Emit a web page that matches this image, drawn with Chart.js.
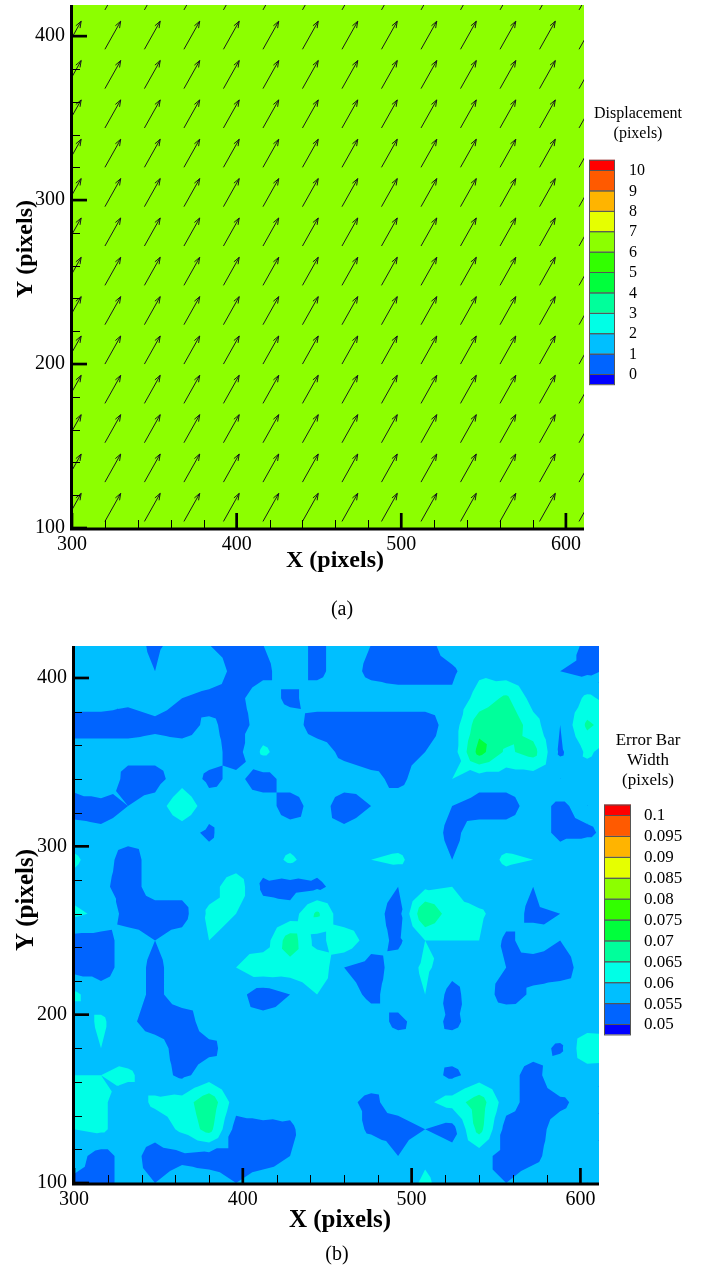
<!DOCTYPE html>
<html>
<head>
<meta charset="utf-8">
<script src="https://cdn.jsdelivr.net/npm/chart.js@4.4.1/dist/chart.umd.min.js"></script>
<style>
  body { margin: 0; background: #fff; }
  #wrap { position: relative; width: 702px; height: 1276px; }
  #chartA { position: absolute; left: 0; top: 0; }
  #chartB { position: absolute; left: 0; top: 625px; }
</style>
</head>
<body>
<div id="wrap">
  <canvas id="chartA" width="702" height="625"></canvas>
  <canvas id="chartB" width="702" height="651"></canvas>
</div>
<script>
// axis ticks (both panels)
var xTicks = [300, 400, 500, 600];
var yTicks = [100, 200, 300, 400];

// shared colour map (below first level ... above last level)
var bandColors = ['#0000ff', '#0064ff', '#00bfff', '#00ffe6', '#00ff9b', '#00ff3c',
                  '#32ff00', '#8cff00', '#e6ff00', '#ffb400', '#ff5a00', '#ff0000'];

// panel (a): uniform displacement vectors on a 24 px grid
var arrowX = [296, 320, 344, 368, 392, 416, 440, 464, 488, 512, 536, 560, 584, 608];
var arrowY = [104, 128, 152, 176, 200, 224, 248, 272, 296, 320, 344, 368, 392, 416];
var dispU = 3.3;
var dispV = 5.9;
var dispLevels = [0, 1, 2, 3, 4, 5, 6, 7, 8, 9, 10];

// panel (b): error bar width, 1e-3 pixels, rows from y=420 down to y=100
var fieldX = [300, 316, 332, 348, 364, 380, 396, 412, 428, 444, 460, 476, 492, 508, 524, 540, 556, 572, 588, 604, 620];
var fieldY = [420, 404, 388, 372, 356, 340, 324, 308, 292, 276, 260, 244, 228, 212, 196, 180, 164, 148, 132, 116, 100];
var errorWidth = [
  [57,56,57,54,57,55,53,55,57,54,57,55,53,53,58,60,58,56,58,54,54],
  [57,56,57,55,60,59,53,54,57,54,57,54,53,53,54,59,57,57,55,54,56],
  [57,57,56,57,55,53,54,57,54,57,57,57,57,57,56,62,66,58,56,61,58],
  [53,53,53,54,53,56,53,57,57,53,53,53,53,53,57,68,70,62,55,66,62],
  [57,57,57,57,57,57,53,61,57,57,54,53,54,55,57,72,64,67,54,61,57],
  [57,60,53,53,58,54,56,53,57,57,57,56,54,57,60,57,57,57,60,57,57],
  [53,53,55,57,64,57,56,57,53,57,53,55,57,57,55,53,53,57,54,57,57],
  [57,56,57,55,57,54,59,57,57,55,56,57,57,57,54,57,57,57,54,54,57],
  [61,57,53,57,60,57,57,57,61,57,59,60,61,57,55,57,61,60,57,60,57],
  [58,56,53,57,57,58,63,54,53,54,57,57,55,59,60,56,57,55,60,57,57],
  [61,59,53,53,53,61,60,57,57,66,56,57,53,70,62,61,57,54,55,57,54],
  [53,53,57,55,57,60,59,57,68,58,64,57,54,60,60,60,54,57,55,57,57],
  [53,53,57,54,57,57,60,64,63,64,55,53,57,61,57,57,55,53,53,57,57],
  [61,57,57,54,57,55,57,52,55,60,57,54,57,60,53,59,52,56,57,55,56],
  [57,61,56,53,53,57,55,57,57,60,59,57,54,57,54,57,60,57,59,57,57],
  [57,60,57,57,53,54,57,57,56,59,58,57,57,55,57,57,57,57,54,64,63],
  [60,60,61,57,54,57,55,60,60,57,57,57,55,57,54,57,57,53,59,57,57],
  [62,61,57,61,62,69,57,59,57,60,56,54,57,59,62,68,57,53,54,57,57],
  [60,61,57,57,61,67,53,53,54,59,58,54,53,55,53,67,53,53,57,57,57],
  [57,53,57,53,54,53,53,53,55,57,57,59,55,59,57,57,53,54,57,58,57],
  [54,54,56,55,57,57,55,57,57,57,55,55,57,61,57,55,55,57,57,57,57]
];
var errLevels = [0.05, 0.055, 0.06, 0.065, 0.07, 0.075, 0.08, 0.085, 0.09, 0.095, 0.1];

var serif = "'Liberation Serif', 'Times New Roman', serif";

function bandColor(levels, v) {
  var k = 0;
  while (k < levels.length && v >= levels[k]) k++;
  return bandColors[k];
}

// keep the part of a triangle where the linear field is >= level
function clipAbove(poly, level) {
  var out = [];
  for (var i = 0; i < poly.length; i++) {
    var a = poly[i], b = poly[(i + 1) % poly.length];
    var ina = a.v >= level, inb = b.v >= level;
    if (ina) out.push(a);
    if (ina !== inb) {
      var t = (level - a.v) / (b.v - a.v);
      out.push({ x: a.x + t * (b.x - a.x), y: a.y + t * (b.y - a.y), v: level });
    }
  }
  return out;
}

var fieldPlugin = {
  id: 'fieldPlugin',
  beforeDatasetsDraw: function (chart) {
    var ctx = chart.ctx, ca = chart.chartArea, sx = chart.scales.x, sy = chart.scales.y;
    ctx.save();
    ctx.beginPath();
    ctx.rect(ca.left, ca.top, ca.right - ca.left, ca.bottom - ca.top);
    ctx.clip();
    if (chart.canvas.id === 'chartA') {
      // uniform field: colour from displacement magnitude
      ctx.fillStyle = bandColor(dispLevels, Math.sqrt(dispU * dispU + dispV * dispV));
      ctx.fillRect(ca.left, ca.top, ca.right - ca.left, ca.bottom - ca.top);
      ctx.restore();
      return;
    }
    function node(i, j) {
      return { x: sx.getPixelForValue(fieldX[i]), y: sy.getPixelForValue(fieldY[j]), v: errorWidth[j][i] / 1000 };
    }
    var tris = [];
    for (var j = 0; j < fieldY.length - 1; j++) {
      for (var i = 0; i < fieldX.length - 1; i++) {
        var a = node(i, j), b = node(i + 1, j), c = node(i + 1, j + 1), d = node(i, j + 1);
        var m = { x: (a.x + c.x) / 2, y: (a.y + c.y) / 2, v: (a.v + b.v + c.v + d.v) / 4 };
        tris.push([a, b, m], [b, c, m], [c, d, m], [d, a, m]);
      }
    }
    ctx.fillStyle = bandColors[0];
    ctx.fillRect(ca.left, ca.top, ca.right - ca.left, ca.bottom - ca.top);
    // flood each level as one path so shared edges leave no seams
    errLevels.forEach(function (lvl, k) {
      ctx.beginPath();
      var any = false;
      tris.forEach(function (tri) {
        var p = clipAbove(tri, lvl - 1e-9);
        if (p.length < 3) return;
        ctx.moveTo(p[0].x, p[0].y);
        for (var q = 1; q < p.length; q++) ctx.lineTo(p[q].x, p[q].y);
        ctx.closePath();
        any = true;
      });
      if (any) {
        ctx.fillStyle = bandColors[k + 1];
        ctx.fill('nonzero');
      }
    });
    ctx.restore();
  },
  afterDatasetsDraw: function (chart) {
    if (chart.canvas.id !== 'chartA') return;
    var ctx = chart.ctx, ca = chart.chartArea, sx = chart.scales.x, sy = chart.scales.y;
    var vecScale = 2.9;
    ctx.save();
    ctx.beginPath();
    ctx.rect(ca.left, ca.top, ca.right - ca.left, ca.bottom - ca.top);
    ctx.clip();
    ctx.strokeStyle = '#1a1a1a';
    ctx.lineWidth = 1;
    chart.data.datasets[0].data.forEach(function (p) {
      var x0 = sx.getPixelForValue(p.x), y0 = sy.getPixelForValue(p.y);
      var x1 = sx.getPixelForValue(p.x + p.u * vecScale), y1 = sy.getPixelForValue(p.y + p.v * vecScale);
      var ang = Math.atan2(y1 - y0, x1 - x0);
      ctx.beginPath();
      ctx.moveTo(x0, y0);
      ctx.lineTo(x1, y1);
      ctx.moveTo(x1 - 7 * Math.cos(ang - 0.35), y1 - 7 * Math.sin(ang - 0.35));
      ctx.lineTo(x1, y1);
      ctx.lineTo(x1 - 7 * Math.cos(ang + 0.35), y1 - 7 * Math.sin(ang + 0.35));
      ctx.stroke();
    });
    ctx.restore();
  }
};

// axes with inward ticks, axis titles, colour bar and caption
function decorPlugin(opt) {
  return {
    id: 'decor',
    afterDraw: function (chart) {
      var ctx = chart.ctx, ca = chart.chartArea, sx = chart.scales.x, sy = chart.scales.y;
      ctx.save();
      ctx.strokeStyle = '#000';
      ctx.lineWidth = 1;
      for (var v = 320; v < sx.max; v += 20) {
        if (v % 100 === 0) continue;
        var px = Math.round(sx.getPixelForValue(v)) + 0.5;
        ctx.beginPath(); ctx.moveTo(px, ca.bottom); ctx.lineTo(px, ca.bottom - 8); ctx.stroke();
      }
      for (var w = 120; w < sy.max; w += 20) {
        if (w % 100 === 0) continue;
        var py = Math.round(sy.getPixelForValue(w)) + 0.5;
        ctx.beginPath(); ctx.moveTo(ca.left, py); ctx.lineTo(ca.left + 8, py); ctx.stroke();
      }
      ctx.lineWidth = 2.7;
      xTicks.forEach(function (t) {
        var px = sx.getPixelForValue(t);
        ctx.beginPath(); ctx.moveTo(px, ca.bottom); ctx.lineTo(px, ca.bottom - 15); ctx.stroke();
      });
      yTicks.forEach(function (t) {
        var py = sy.getPixelForValue(t);
        ctx.beginPath(); ctx.moveTo(ca.left, py); ctx.lineTo(ca.left + 15, py); ctx.stroke();
      });
      ctx.lineWidth = 3;
      ctx.beginPath();
      ctx.moveTo(ca.left - 0.5, ca.top);
      ctx.lineTo(ca.left - 0.5, ca.bottom + 1);
      ctx.lineTo(ca.right, ca.bottom + 1);
      ctx.stroke();

      // axis titles
      ctx.fillStyle = '#000';
      ctx.textAlign = 'center';
      ctx.textBaseline = 'middle';
      ctx.font = 'bold ' + opt.titleSize + 'px ' + serif;
      ctx.fillText('X (pixels)', opt.xTitle[0], opt.xTitle[1]);
      ctx.save();
      ctx.translate(opt.yTitle[0], opt.yTitle[1]);
      ctx.rotate(-Math.PI / 2);
      ctx.fillText('Y (pixels)', 0, 0);
      ctx.restore();

      // caption
      ctx.font = '20px ' + serif;
      ctx.fillText(opt.caption, opt.capPos[0], opt.capPos[1]);

      // colour bar
      ctx.font = opt.cbTitleSize + 'px ' + serif;
      opt.cbTitle.forEach(function (line, i) {
        ctx.fillText(line, opt.cbTitleX, opt.cbTitleY + i * opt.cbTitleGap);
      });
      var lv = opt.levels, n = lv.length - 1;
      var step = (opt.cbBottom - opt.cbTop) / n;
      var cap = step / 2;
      ctx.lineWidth = 1;
      ctx.strokeStyle = '#555';
      for (var k = 0; k <= lv.length; k++) {
        var yHi = k === lv.length ? opt.cbTop - cap : opt.cbBottom - k * step;
        var yLo = k === 0 ? opt.cbBottom + cap : opt.cbBottom - (k - 1) * step;
        ctx.fillStyle = bandColors[k];
        ctx.fillRect(opt.cbX, yHi, opt.cbW, yLo - yHi);
        ctx.strokeRect(opt.cbX + 0.5, yHi + 0.5, opt.cbW - 1, yLo - yHi);
      }
      ctx.fillStyle = '#000';
      ctx.textAlign = 'left';
      ctx.font = opt.cbLabelSize + 'px ' + serif;
      lv.forEach(function (l, k) {
        ctx.fillText(String(Number(l.toFixed(3))), opt.cbLabelX, opt.cbBottom - k * step + 1);
      });
      ctx.restore();
    }
  };
}

function axisOptions(yWidth, xHeight) {
  var tickFont = { family: serif, size: 20 };
  return {
    x: {
      type: 'linear', min: 300, max: 611,
      grid: { display: false, drawTicks: false },
      border: { display: false },
      ticks: { stepSize: 100, includeBounds: false, font: tickFont, color: '#000', padding: 5, maxRotation: 0 },
      afterFit: function (s) { s.height = xHeight; s.paddingLeft = 0; s.paddingRight = 0; }
    },
    y: {
      type: 'linear', min: 100, max: 419,
      grid: { display: false, drawTicks: false },
      border: { display: false },
      ticks: { stepSize: 100, includeBounds: false, font: tickFont, color: '#000', padding: 7 },
      afterFit: function (s) { s.width = yWidth; s.paddingTop = 0; s.paddingBottom = 0; }
    }
  };
}

var arrowPoints = [];
arrowY.forEach(function (y) {
  arrowX.forEach(function (x) {
    arrowPoints.push({ x: x, y: y, u: dispU, v: dispV });
  });
});

new Chart(document.getElementById('chartA'), {
  type: 'scatter',
  data: { datasets: [{ data: arrowPoints, pointRadius: 0 }] },
  options: {
    responsive: false,
    animation: false,
    events: [],
    layout: { padding: { left: 0, right: 118, top: 5, bottom: 0 } },
    plugins: { legend: { display: false }, tooltip: { enabled: false } },
    scales: axisOptions(72, 97)
  },
  plugins: [fieldPlugin, decorPlugin({
    titleSize: 24, xTitle: [335, 561], yTitle: [26, 249],
    caption: '(a)', capPos: [342, 610],
    cbTitle: ['Displacement', '(pixels)'], cbTitleSize: 16, cbTitleX: 638, cbTitleY: 114, cbTitleGap: 20,
    levels: dispLevels, cbX: 589, cbW: 26, cbTop: 170, cbBottom: 374,
    cbLabelX: 629, cbLabelSize: 16
  })]
});

new Chart(document.getElementById('chartB'), {
  type: 'scatter',
  data: { datasets: [{ data: [], pointRadius: 0 }] },
  options: {
    responsive: false,
    animation: false,
    events: [],
    layout: { padding: { left: 0, right: 103, top: 21, bottom: 0 } },
    plugins: { legend: { display: false }, tooltip: { enabled: false } },
    scales: axisOptions(74, 93)
  },
  plugins: [fieldPlugin, decorPlugin({
    titleSize: 25, xTitle: [340, 596], yTitle: [27, 275],
    caption: '(b)', capPos: [337, 630],
    cbTitle: ['Error Bar', 'Width', '(pixels)'], cbTitleSize: 17, cbTitleX: 648, cbTitleY: 116, cbTitleGap: 20,
    levels: errLevels, cbX: 604, cbW: 27, cbTop: 190, cbBottom: 399,
    cbLabelX: 644, cbLabelSize: 17
  })]
});
</script>
</body>
</html>
